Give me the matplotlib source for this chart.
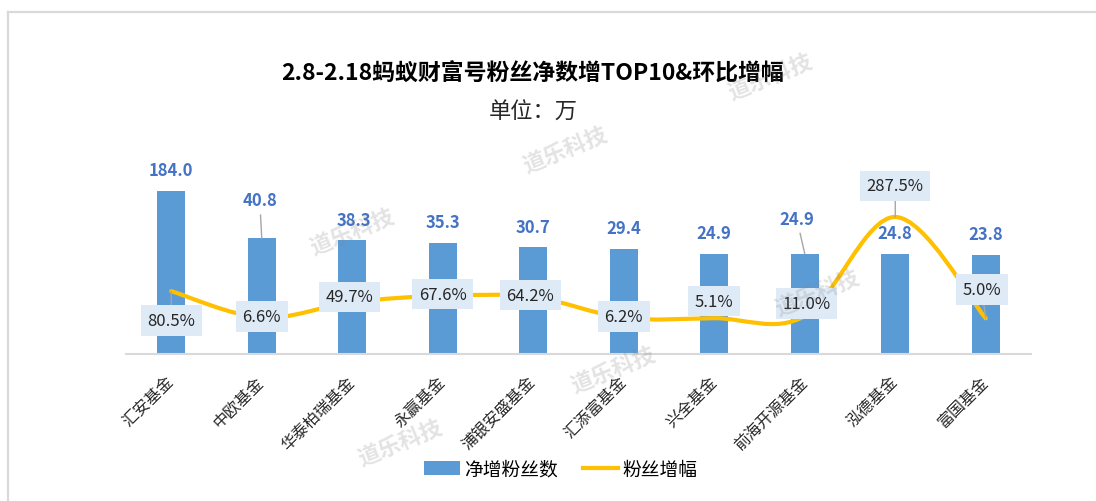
import numpy as np
import matplotlib as mpl
mpl.use('Agg')
import matplotlib.pyplot as plt
from matplotlib.path import Path
from matplotlib.patches import PathPatch
from matplotlib.lines import Line2D

plt.rcParams['font.family'] = ['Noto Sans CJK SC', 'DejaVu Sans']

# ---------------- data ----------------
names = ['汇安基金', '中欧基金', '华泰柏瑞基金', '永赢基金', '浦银安盛基金',
         '汇添富基金', '兴全基金', '前海开源基金', '泓德基金', '富国基金']
fans = [184.0, 40.8, 38.3, 35.3, 30.7, 29.4, 24.9, 24.9, 24.8, 23.8]   # 万
growth = [80.5, 6.6, 49.7, 67.6, 64.2, 6.2, 5.1, 11.0, 287.5, 5.0]     # %

title = '2.8-2.18蚂蚁财富号粉丝净数增TOP10&环比增幅'
subtitle = '单位：万'

W, H = 1096, 502
fig = plt.figure(figsize=(W / 100, H / 100), dpi=100)

def fx(px):
    return px / W

def fy(py):
    return 1 - py / H

# chart frame (top + left edge visible)
fig.add_artist(Line2D([fx(8), 1], [fy(13), fy(13)], color='#D9D9D9', lw=1.6))
fig.add_artist(Line2D([fx(8), fx(8)], [fy(13), 0], color='#D9D9D9', lw=1.6))

ax = fig.add_axes([fx(126), fy(355), (1031 - 126) / W, (355 - 150) / H])
x = np.arange(len(names))

bars = ax.bar(x, fans, width=0.31, color='#5B9BD5', zorder=2)
ax.set_yscale('log')
ax.set_ylim(1, 714)
ax.set_xlim(-0.5, len(names) - 0.5)
for s in ['top', 'left', 'right']:
    ax.spines[s].set_visible(False)
ax.spines['bottom'].set_color('#D9D9D9')
ax.spines['bottom'].set_linewidth(1.5)
ax.set_yticks([])
ax.yaxis.set_minor_locator(mpl.ticker.NullLocator())
ax.set_xticks(x, labels=names)
ax.tick_params(axis='x', length=0, pad=18, labelsize=11.5, labelcolor='#262626')
for lbl in ax.get_xticklabels():
    lbl.set_rotation(45)
    lbl.set_ha('right')
    lbl.set_va('center')
    lbl.set_rotation_mode('anchor')

# bar value labels
bar_off = [(0, 21), (-2, 38), (2, 20), (0, 21), (0, 20),
           (0, 21), (0, 21), (-8, 35), (0, 21), (0, 21)]
for i, v in enumerate(fans):
    dx, dy = bar_off[i]
    kw = {}
    if dy > 30:
        kw['arrowprops'] = dict(arrowstyle='-', color='#A6A6A6', lw=1,
                                shrinkA=2, shrinkB=0)
    ax.annotate(f'{v:.1f}', xy=(i, v), xytext=(dx, dy), textcoords='offset pixels',
                ha='center', va='center', fontsize=12, fontweight='bold',
                color='#4472C4', **kw)

# secondary axis: smoothed growth line
ax2 = ax.twinx()
ax2.set_ylim(-94.8, 477.1)
ax2.set_xlim(-0.5, len(names) - 0.5)
for s in ax2.spines.values():
    s.set_visible(False)
ax2.set_yticks([])

pts = np.column_stack([x, growth]).astype(float)
n = len(pts)
verts = [pts[0]]
codes = [Path.MOVETO]
for i in range(n - 1):
    p0 = pts[i - 1] if i > 0 else pts[i]
    p3 = pts[i + 2] if i + 2 < n else pts[i + 1]
    c1 = pts[i] + (pts[i + 1] - p0) / 6
    c2 = pts[i + 1] - (p3 - pts[i]) / 6
    verts += [c1, c2, pts[i + 1]]
    codes += [Path.CURVE4] * 3
ax2.add_patch(PathPatch(Path(verts, codes), facecolor='none', edgecolor='#FFC000',
                        lw=3, capstyle='round', zorder=3))

pct_off = [(0, -29.5), (0, 1), (-3, 5.5), (0, 1.6), (-3, 2),
           (0, 1.4), (0, 17), (2, 12.5), (0, 31), (-4, 28.6)]
for i, v in enumerate(growth):
    dx, dy = pct_off[i]
    kw = {}
    if abs(dy) > 25:
        kw['arrowprops'] = dict(arrowstyle='-', color='#A6A6A6', lw=1,
                                shrinkA=0, shrinkB=0)
    ax2.annotate(f'{v:.1f}%', xy=(i, v), xytext=(dx, dy), textcoords='offset pixels',
                 ha='center', va='center', fontsize=12, color='#262626', zorder=5,
                 bbox=dict(boxstyle='square,pad=0.4', fc='#DEEBF7', ec='none'), **kw)

# titles
fig.text(fx(533), fy(74), title, ha='center', va='center', fontsize=16.5,
         fontweight='bold', color='black')
fig.text(fx(533), fy(112), subtitle, ha='center', va='center', fontsize=16,
         color='#262626')

# legend
handles = [bars, Line2D([], [], color='#FFC000', lw=3)]
fig.legend(handles, ['净增粉丝数', '粉丝增幅'], loc='center',
           bbox_to_anchor=(fx(561), fy(470)), ncol=2, frameon=False,
           fontsize=13.5, handlelength=1.9, handletextpad=0.25, columnspacing=1.3)

# watermarks
for wx, wy in [(770, 77), (565, 150), (352, 232), (817, 293), (613, 370), (400, 443)]:
    fig.text(fx(wx), fy(wy), '道乐科技', ha='center', va='center', rotation=22,
             fontsize=16, fontweight='bold', color='gray', alpha=0.22, zorder=10)

fig.savefig('out.png', dpi=100)
